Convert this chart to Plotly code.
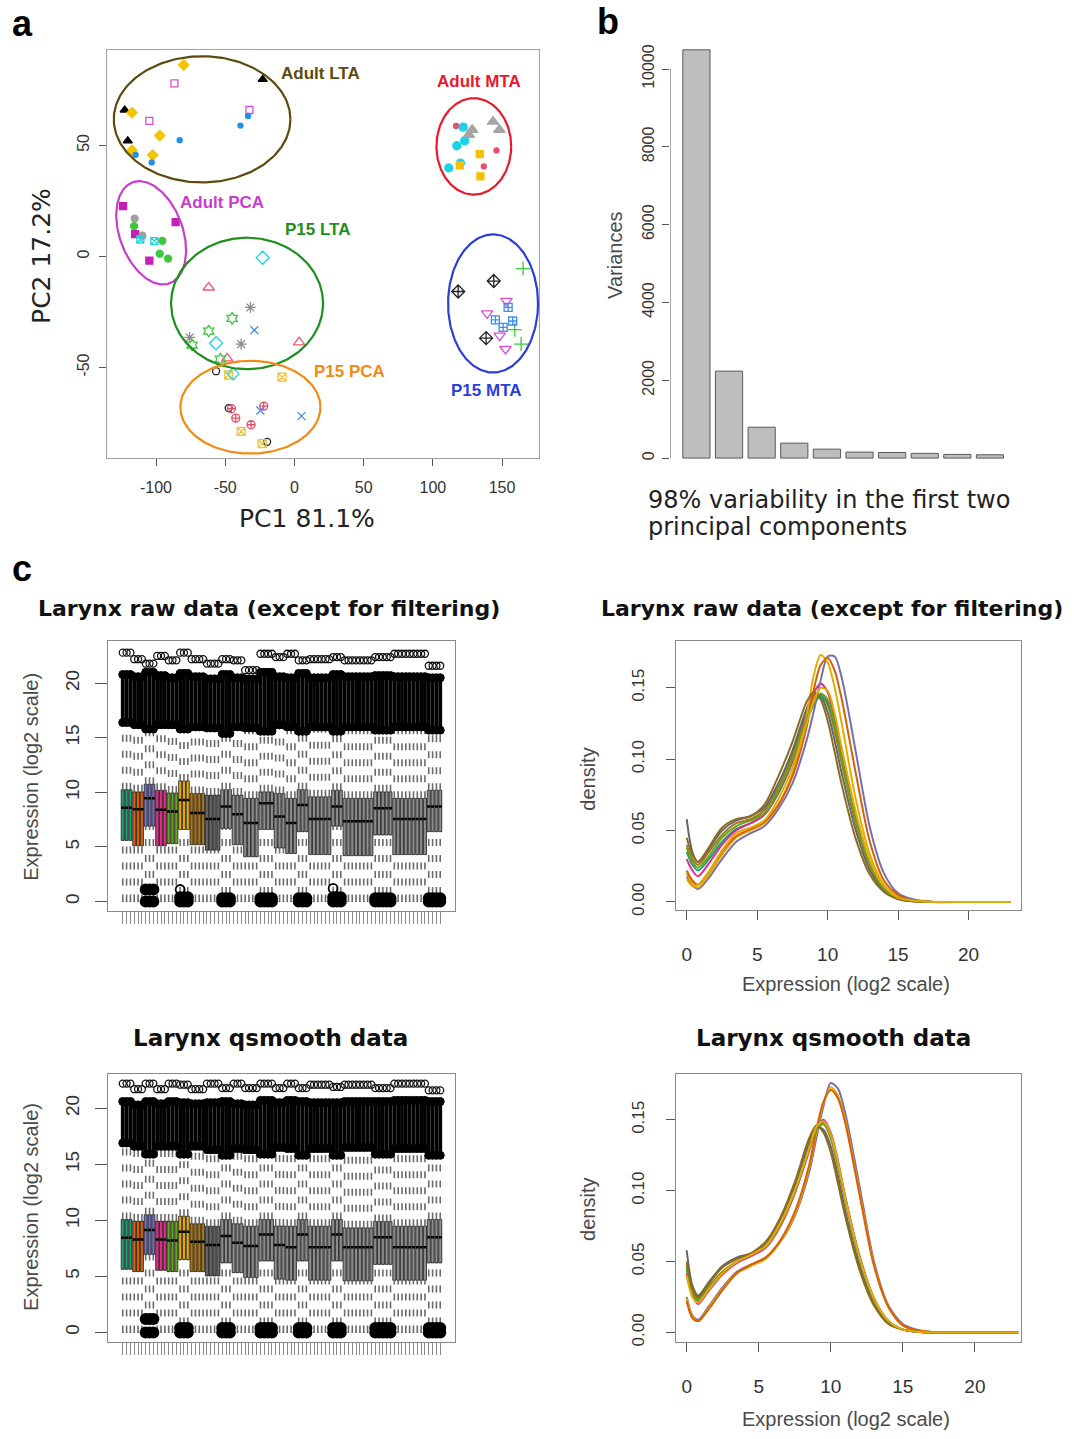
import numpy as np
import plotly.graph_objects as go

W, H = 1078, 1439


def dom_x(l, r):
    return [l / W, r / W]


def dom_y(t, b):
    return [1 - b / H, 1 - t / H]


def fx(px):
    return px / W


def fy(py):
    return 1 - py / H


# ======================= Panel a : PCA =======================
# Adult LTA
LTA_TRI_X = [-122.6, -22.9, -120.4]
LTA_TRI_Y = [65.9, 79.7, 52.0]
LTA_DIA_X = [-80.0, -117.3, -97.3, -117.3, -102.4]
LTA_DIA_Y = [86.1, 64.7, 54.4, 47.7, 45.6]
LTA_SQ_X = [-86.7, -32.5, -104.8]
LTA_SQ_Y = [77.9, 65.9, 61.0]
LTA_DOT_X = [-33.5, -39.0, -82.9, -114.7, -103.1]
LTA_DOT_Y = [63.2, 58.9, 52.3, 45.7, 42.3]
# Adult MTA
MTA_RED_X = [116.8, 146.0, 136.8]
MTA_RED_Y = [58.7, 47.7, 40.5]
MTA_CYAN_X = [121.9, 123.0, 117.3, 119.9, 111.5]
MTA_CYAN_Y = [58.2, 52.0, 49.8, 42.0, 39.8]
MTA_TRI_X = [128.4, 126.0, 143.5, 148.1]
MTA_TRI_Y = [57.0, 54.7, 60.7, 57.0]
MTA_SQ_X = [133.9, 119.5, 134.4]
MTA_SQ_Y = [46.0, 41.0, 36.0]
# Adult PCA
PCA_SQ_X = [-123.8, -85.8, -115.1, -104.8]
PCA_SQ_Y = [22.6, 15.4, 10.0, -1.9]
PCA_GRAY_X = [-115.4, -109.8]
PCA_GRAY_Y = [17.0, 9.3]
PCA_GREEN_X = [-115.8, -95.4, -97.3, -91.3]
PCA_GREEN_Y = [13.6, 7.0, 1.2, -1.0]
PCA_CYAN_X = [-111.3, -101.2]
PCA_CYAN_Y = [7.6, 6.9]
# P15 LTA
P15L_DIA_X = [-22.9, -56.6]
P15L_DIA_Y = [-0.6, -39.1]
P15L_TRI_X = [-61.9, 3.4, -48.6]
P15L_TRI_Y = [-14.0, -38.7, -45.9]
P15L_AST_X = [-31.8, -75.6, -38.5]
P15L_AST_Y = [-23.0, -36.5, -39.5]
P15L_HEX_X = [-45.0, -61.9, -73.9, -53.5]
P15L_HEX_Y = [-27.9, -33.6, -39.9, -46.2]
P15L_X_X = [-28.9]
P15L_X_Y = [-33.2]
# P15 PCA
P15P_CIR_X = [-56.6, -47.5, -19.7]
P15P_CIR_Y = [-51.7, -68.3, -83.5]
P15P_SQX_X = [-47.5, -8.9, -38.5, -23.3]
P15P_SQX_Y = [-53.4, -54.4, -78.8, -84.3]
P15P_DIA_X = [-44.3]
P15P_DIA_Y = [-52.9]
P15P_CP_X = [-45.5, -22.2, -42.4, -31.3]
P15P_CP_Y = [-68.6, -67.4, -72.8, -75.8]
P15P_X_X = [-24.6, 5.1]
P15P_X_Y = [-69.4, -71.9]
# P15 MTA
P15M_PLUS_X = [165.2, 159.2, 163.8]
P15M_PLUS_Y = [-5.5, -33.0, -39.5]
P15M_DC_X = [144.0, 118.3, 138.5]
P15M_DC_Y = [-11.1, -15.8, -36.8]
P15M_TD_X = [153.2, 139.2, 148.3, 152.5]
P15M_TD_Y = [-20.0, -25.7, -35.7, -41.7]
P15M_SC_X = [154.4, 145.2, 157.7, 150.8]
P15M_SC_Y = [-23.0, -28.6, -29.1, -32.0]

PCA_SERIES = [
    (LTA_TRI_X, LTA_TRI_Y, "triangle-up", "#000000", 8),
    (LTA_DIA_X, LTA_DIA_Y, "diamond", "#F5C400", 8),
    (LTA_SQ_X, LTA_SQ_Y, "square-open", "#D64FD0", 7),
    (LTA_DOT_X, LTA_DOT_Y, "circle", "#1E90E6", 5),
    (MTA_RED_X, MTA_RED_Y, "circle", "#E0506A", 5),
    (MTA_CYAN_X, MTA_CYAN_Y, "circle", "#1ED2E6", 8),
    (MTA_TRI_X, MTA_TRI_Y, "triangle-up", "#A5A5A5", 10),
    (MTA_SQ_X, MTA_SQ_Y, "square", "#F5C000", 7),
    (PCA_SQ_X, PCA_SQ_Y, "square", "#C81EB4", 7),
    (PCA_GRAY_X, PCA_GRAY_Y, "circle", "#A0A0A0", 7),
    (PCA_GREEN_X, PCA_GREEN_Y, "circle", "#3CC83C", 7),
    (PCA_CYAN_X, PCA_CYAN_Y, "square-x-open", "#1ED2E6", 7),
    (P15L_DIA_X, P15L_DIA_Y, "diamond-open", "#1ED2E6", 10),
    (P15L_TRI_X, P15L_TRI_Y, "triangle-up-open", "#F05A78", 10),
    (P15L_AST_X, P15L_AST_Y, "asterisk-open", "#8C8C8C", 9),
    (P15L_HEX_X, P15L_HEX_Y, "hexagram-open", "#3CC83C", 9),
    (P15L_X_X, P15L_X_Y, "x-thin-open", "#3C8CF0", 8),
    (P15P_CIR_X, P15P_CIR_Y, "circle-open", "#222222", 7),
    (P15P_SQX_X, P15P_SQX_Y, "square-x-open", "#F0C040", 8),
    (P15P_DIA_X, P15P_DIA_Y, "diamond-open", "#1ED2E6", 9),
    (P15P_CP_X, P15P_CP_Y, "circle-cross-open", "#E0506A", 8),
    (P15P_X_X, P15P_X_Y, "x-thin-open", "#3C8CF0", 8),
    (P15M_PLUS_X, P15M_PLUS_Y, "cross-thin-open", "#3CC83C", 10),
    (P15M_DC_X, P15M_DC_Y, "diamond-cross-open", "#222222", 10),
    (P15M_TD_X, P15M_TD_Y, "triangle-down-open", "#D64FD0", 10),
    (P15M_SC_X, P15M_SC_Y, "square-cross-open", "#3C8CF0", 8),
]

ELL_NAMES = ["Adult LTA", "Adult MTA", "Adult PCA", "P15 LTA", "P15 PCA", "P15 MTA"]
ELL_CX = [-66.7, 129.6, -103.5, -34.2, -31.8, 143.5]
ELL_CY = [61.7, 49.5, 10.6, -21.2, -67.9, -21.2]
ELL_RX = [63.8, 27.0, 22.8, 54.9, 50.6, 32.5]
ELL_RY = [28.4, 21.7, 24.2, 29.6, 20.9, 31.1]
ELL_TILT = [0, 0, 20, 0, 0, 0]
ELL_COLORS = ["#5E4A0C", "#E8192C", "#C73EC8", "#1C8F1C", "#F28A17", "#2B3FD8"]
LABEL_X = [18.8, 133.2, -52.2, 16.8, 40.0, 138.7]
LABEL_Y = [82.4, 78.6, 24.3, 12.1, -51.7, -60.4]

PC1_TICKS = [-100, -50, 0, 50, 100, 150]
PC2_TICKS = [-50, 0, 50]

PXX, PXY = 1.384, 2.23  # screen px per data unit in panel a (aspect)

# ======================= Panel b : variances =======================
VARIANCES = [10494, 2235, 793, 384, 230, 154, 143, 120, 94, 85]
VAR_TICKS = [0, 2000, 4000, 6000, 8000, 10000]

# ======================= Panel c : boxplots =======================
GROUP_SIZES = [3, 3, 3, 3, 3, 3, 4, 4, 3, 3, 4, 4, 3, 3, 3, 6, 3, 8, 5, 9, 4]
GROUP_COLORS = ["#1B9E77", "#D95F02", "#7570B3", "#E7298A", "#66A61E", "#E6AB02",
                "#A6761D", "#666666", "#8C8C8C", "#8C8C8C", "#8C8C8C", "#8C8C8C",
                "#8C8C8C", "#8C8C8C", "#8C8C8C", "#8C8C8C", "#8C8C8C", "#8C8C8C",
                "#8C8C8C", "#8C8C8C", "#8C8C8C"]
GROUP_HIGH = [0, 0, 1, 0, 0, 1, 0, 0, 1, 0, 0, 1, 0, 0, 1, 0, 1, 0, 1, 0, 1]

RAW_Q1 = [5.6, 5.1, 6.9, 5.1, 5.3, 6.6, 5.2, 4.7, 6.7, 5.2, 4.1, 6.6, 4.9, 4.4, 6.4, 4.3, 6.9, 4.2, 6.1, 4.3, 6.4]
RAW_MED = [8.6, 8.45, 9.45, 8.4, 8.25, 9.3, 8.1, 7.55, 8.7, 8.0, 7.2, 9.0, 7.8, 7.2, 8.85, 7.55, 8.7, 7.35, 8.55, 7.55, 8.7]
RAW_Q3 = [10.25, 10.05, 10.75, 10.2, 9.95, 11.05, 9.9, 9.75, 10.25, 9.75, 9.45, 10.05, 9.9, 9.45, 10.25, 9.6, 10.2, 9.45, 10.05, 9.45, 10.2]
RAW_CLOUD_LO = [16.4, 16.2, 15.8, 16.2, 16.2, 15.8, 16.0, 15.9, 15.4, 16.0, 15.9, 15.6, 16.2, 16.0, 15.6, 16.0, 15.6, 16.0, 15.7, 16.0, 15.7]
RAW_CLOUD_HI = [20.8, 20.6, 21.0, 20.7, 20.5, 20.9, 20.6, 20.4, 20.8, 20.5, 20.4, 21.0, 20.6, 20.5, 20.9, 20.5, 20.8, 20.6, 20.7, 20.6, 20.5]
RAW_MAX = [22.8, 22.2, 21.8, 22.5, 22.1, 22.8, 22.2, 21.8, 22.2, 22.1, 21.2, 22.7, 22.4, 22.7, 22.1, 22.2, 22.4, 22.1, 22.4, 22.7, 21.6]
RAW_ZERO_TOP = [None, None, 1.1, None, None, 0.4, None, None, 0.3, None, None, 0.3, None, None, 0.3, None, 0.4, None, 0.3, None, 0.3]
RAW_LOW_CIRCLE = [None, None, None, None, None, 1.1, None, None, None, None, None, None, None, None, None, None, 1.2, None, None, None, None]

QS_Q1 = [5.63, 5.42, 6.96, 5.54, 5.42, 6.5, 5.42, 5.04, 6.2, 5.33, 4.9, 6.37, 4.74, 4.65, 6.37, 4.65, 6.37, 4.6, 6.07, 4.65, 6.2]
QS_MED = [8.44, 8.3, 9.13, 8.3, 8.2, 8.98, 8.09, 7.8, 8.6, 8.0, 7.7, 8.74, 7.8, 7.6, 8.74, 7.6, 8.74, 7.6, 8.5, 7.6, 8.5]
QS_Q3 = [10.07, 9.93, 10.5, 9.93, 9.93, 10.37, 9.7, 9.48, 10.07, 9.7, 9.48, 10.07, 9.5, 9.48, 10.07, 9.48, 10.07, 9.33, 9.9, 9.48, 10.07]
QS_CLOUD_LO = [16.9, 16.6, 15.9, 16.6, 16.6, 15.9, 16.6, 16.3, 15.8, 16.4, 16.3, 15.9, 16.5, 16.4, 15.8, 16.4, 15.8, 16.5, 15.9, 16.4, 15.8]
QS_CLOUD_HI = [20.6, 20.3, 20.6, 20.4, 20.6, 20.5, 20.4, 20.5, 20.6, 20.4, 20.3, 20.7, 20.5, 20.7, 20.6, 20.5, 20.5, 20.6, 20.6, 20.7, 20.6]
QS_MAX = [22.2, 21.7, 22.2, 21.7, 22.2, 22.1, 21.7, 22.2, 21.8, 22.2, 21.8, 22.2, 21.8, 22.2, 21.8, 22.1, 21.9, 22.1, 21.8, 22.2, 21.6]
QS_ZERO_TOP = [None, None, 1.2, None, None, 0.4, None, None, 0.4, None, None, 0.4, None, None, 0.4, None, 0.4, None, 0.4, None, 0.4]
QS_LOW_CIRCLE = [None] * 21

BOX_TICKS = [0, 5, 10, 15, 20]

# ======================= Panel c : densities =======================
DENS_X = [0, 0.4, 0.8, 1.5, 2.5, 3.5, 4.5, 5.5, 6.5, 7.5, 8.5, 9.0, 9.5, 10.0, 10.5, 11.0,
          12.0, 13.0, 14.0, 15.0, 16.0, 17.5, 20.0, 23.0]
DENS_COLORS = ["#A6761D", "#666666", "#1B9E77", "#E7298A", "#7570B3", "#E6AB02",
               "#D95F02", "#66A61E", "#8C6D1F", "#E6AB02"]
RAW_DENS = [
    [0.040, 0.030, 0.026, 0.034, 0.047, 0.055, 0.058, 0.064, 0.080, 0.103, 0.132, 0.143, 0.145, 0.138, 0.120, 0.097, 0.055, 0.025, 0.009, 0.003, 0.001, 0, 0, 0],
    [0.058, 0.035, 0.028, 0.036, 0.050, 0.057, 0.060, 0.066, 0.083, 0.106, 0.135, 0.145, 0.144, 0.133, 0.113, 0.090, 0.050, 0.022, 0.008, 0.002, 0.0005, 0, 0, 0],
    [0.035, 0.026, 0.022, 0.029, 0.042, 0.051, 0.055, 0.061, 0.076, 0.098, 0.126, 0.138, 0.144, 0.140, 0.124, 0.101, 0.058, 0.027, 0.010, 0.003, 0.001, 0, 0, 0],
    [0.030, 0.022, 0.018, 0.026, 0.040, 0.050, 0.055, 0.061, 0.077, 0.099, 0.130, 0.146, 0.153, 0.147, 0.128, 0.103, 0.058, 0.026, 0.009, 0.003, 0.001, 0, 0, 0],
    [0.018, 0.012, 0.009, 0.016, 0.030, 0.042, 0.048, 0.053, 0.065, 0.083, 0.113, 0.133, 0.155, 0.172, 0.172, 0.157, 0.105, 0.052, 0.020, 0.006, 0.002, 0, 0, 0],
    [0.020, 0.013, 0.010, 0.018, 0.033, 0.045, 0.050, 0.055, 0.068, 0.090, 0.130, 0.158, 0.173, 0.168, 0.150, 0.125, 0.072, 0.033, 0.012, 0.004, 0.001, 0, 0, 0],
    [0.022, 0.015, 0.012, 0.020, 0.035, 0.046, 0.051, 0.056, 0.068, 0.088, 0.122, 0.148, 0.166, 0.171, 0.162, 0.142, 0.090, 0.042, 0.015, 0.005, 0.001, 0, 0, 0],
    [0.038, 0.028, 0.024, 0.031, 0.045, 0.053, 0.057, 0.062, 0.078, 0.100, 0.128, 0.140, 0.146, 0.142, 0.125, 0.100, 0.057, 0.026, 0.009, 0.003, 0.001, 0, 0, 0],
    [0.045, 0.033, 0.028, 0.037, 0.052, 0.058, 0.060, 0.068, 0.088, 0.112, 0.140, 0.147, 0.142, 0.127, 0.105, 0.082, 0.044, 0.019, 0.007, 0.002, 0.0005, 0, 0, 0],
    [0.016, 0.011, 0.012, 0.020, 0.036, 0.048, 0.052, 0.057, 0.072, 0.094, 0.125, 0.140, 0.150, 0.148, 0.132, 0.108, 0.063, 0.029, 0.011, 0.003, 0.001, 0, 0, 0],
]
QS_DENS = [
    [0.048, 0.030, 0.024, 0.032, 0.043, 0.050, 0.055, 0.062, 0.077, 0.100, 0.130, 0.144, 0.147, 0.137, 0.117, 0.093, 0.052, 0.023, 0.008, 0.002, 0.0005, 0, 0, 0],
    [0.058, 0.033, 0.026, 0.035, 0.047, 0.053, 0.056, 0.064, 0.080, 0.104, 0.134, 0.145, 0.143, 0.131, 0.110, 0.086, 0.047, 0.020, 0.007, 0.002, 0.0005, 0, 0, 0],
    [0.045, 0.028, 0.022, 0.031, 0.042, 0.050, 0.055, 0.061, 0.076, 0.099, 0.129, 0.143, 0.148, 0.139, 0.119, 0.095, 0.053, 0.024, 0.008, 0.002, 0.0005, 0, 0, 0],
    [0.042, 0.026, 0.020, 0.029, 0.041, 0.049, 0.054, 0.060, 0.075, 0.098, 0.128, 0.144, 0.150, 0.141, 0.121, 0.096, 0.054, 0.024, 0.008, 0.002, 0.0005, 0, 0, 0],
    [0.025, 0.012, 0.009, 0.018, 0.032, 0.043, 0.048, 0.053, 0.064, 0.082, 0.113, 0.137, 0.160, 0.176, 0.172, 0.155, 0.103, 0.050, 0.019, 0.006, 0.002, 0, 0, 0],
    [0.024, 0.011, 0.008, 0.017, 0.031, 0.042, 0.047, 0.052, 0.064, 0.083, 0.116, 0.141, 0.162, 0.173, 0.167, 0.150, 0.099, 0.048, 0.018, 0.005, 0.0015, 0, 0, 0],
    [0.022, 0.010, 0.008, 0.016, 0.030, 0.042, 0.048, 0.053, 0.065, 0.085, 0.118, 0.143, 0.163, 0.171, 0.165, 0.148, 0.097, 0.047, 0.018, 0.005, 0.0015, 0, 0, 0],
    [0.046, 0.029, 0.023, 0.031, 0.043, 0.050, 0.055, 0.061, 0.076, 0.099, 0.129, 0.143, 0.147, 0.138, 0.118, 0.094, 0.052, 0.023, 0.008, 0.002, 0.0005, 0, 0, 0],
    [0.050, 0.031, 0.025, 0.034, 0.046, 0.052, 0.056, 0.064, 0.081, 0.106, 0.137, 0.146, 0.141, 0.127, 0.105, 0.082, 0.044, 0.019, 0.006, 0.002, 0.0005, 0, 0, 0],
    [0.040, 0.025, 0.021, 0.030, 0.042, 0.050, 0.055, 0.061, 0.077, 0.100, 0.130, 0.145, 0.149, 0.140, 0.120, 0.095, 0.053, 0.024, 0.008, 0.002, 0.0005, 0, 0, 0],
]
DENS_XTICKS = [0, 5, 10, 15, 20]
DENS_YTICKS = [0, 0.05, 0.10, 0.15]

SANS = "Liberation Sans, Arial, sans-serif"
WIDE = "DejaVu Sans, sans-serif"
TXT = "#333333"
GRAYTXT = "#4a4a4a"

fig = go.Figure()

# ---------- panel a traces ----------
for xs, ys, sym, col, size in PCA_SERIES:
    fig.add_trace(go.Scatter(
        x=xs, y=ys, mode="markers", xaxis="x", yaxis="y", hoverinfo="skip",
        marker=dict(symbol=sym, color=col, size=size, line=dict(color=col, width=1.3))))

t = np.linspace(0, 2 * np.pi, 240)
for cx, cy, rx, ry, tilt, col in zip(ELL_CX, ELL_CY, ELL_RX, ELL_RY, ELL_TILT, ELL_COLORS):
    sx = rx * PXX * np.cos(t)
    sy = ry * PXY * np.sin(t)
    th = np.radians(tilt)
    xr = sx * np.cos(th) - sy * np.sin(th)
    yr = sx * np.sin(th) + sy * np.cos(th)
    fig.add_trace(go.Scatter(x=cx + xr / PXX, y=cy + yr / PXY, mode="lines", xaxis="x", yaxis="y",
                             hoverinfo="skip", line=dict(color=col, width=2.2)))

# ---------- panel b traces ----------
bar_pos = [0.7 + 1.2 * i for i in range(len(VARIANCES))]
fig.add_trace(go.Bar(x=bar_pos, y=VARIANCES, width=1.0, xaxis="x2", yaxis="y2",
                     marker=dict(color="#BEBEBE", line=dict(color="#5a5a5a", width=1)),
                     hoverinfo="skip"))


# ---------- panel c boxplots ----------
def add_boxplot(xa, ya, q1g, medg, q3g, clo_g, chi_g, maxg, ztop_g, lowc_g):
    sizes = GROUP_SIZES
    q1 = np.repeat(q1g, sizes)
    med = np.repeat(medg, sizes)
    q3 = np.repeat(q3g, sizes)
    clo = np.repeat(clo_g, sizes)
    chi = np.repeat(chi_g, sizes)
    mx = np.repeat(maxg, sizes)
    high = np.repeat(GROUP_HIGH, sizes)
    cols = list(np.repeat(GROUP_COLORS, sizes))
    n = len(q1)
    xs = np.arange(1, n + 1)
    wlo = np.where(high == 1, 0.7, 0.0)
    whi = clo - 0.15

    # dashed whiskers (R: lty = 2)
    wx, wy = [], []
    for i in range(n):
        wx += [xs[i], xs[i], None, xs[i], xs[i], None]
        wy += [wlo[i], q1[i], None, q3[i], whi[i], None]
    fig.add_trace(go.Scatter(x=wx, y=wy, mode="lines", xaxis=xa, yaxis=ya, hoverinfo="skip",
                             line=dict(color="#6a6a6a", width=1.6, dash="7px,9px")))
    # staples
    sxl, syl = [], []
    for i in range(n):
        for v in (wlo[i], whi[i]):
            sxl += [xs[i] - 0.2, xs[i] + 0.2, None]
            syl += [v, v, None]
    fig.add_trace(go.Scatter(x=sxl, y=syl, mode="lines", xaxis=xa, yaxis=ya, hoverinfo="skip",
                             line=dict(color="#555555", width=1)))
    # outlier cloud (dense overlapping open circles)
    fig.add_trace(go.Bar(x=xs, y=chi - clo, base=clo, width=1.0, xaxis=xa, yaxis=ya,
                         marker=dict(color="#000000", line=dict(width=0)), hoverinfo="skip"))
    fig.add_trace(go.Scatter(x=np.concatenate([xs, xs]), y=np.concatenate([clo, chi]), mode="markers",
                             xaxis=xa, yaxis=ya, hoverinfo="skip",
                             marker=dict(symbol="circle", size=8, color="#000000",
                                         line=dict(color="#000000", width=1))))
    fig.add_trace(go.Scatter(x=xs, y=mx, mode="markers", xaxis=xa, yaxis=ya, hoverinfo="skip",
                             marker=dict(symbol="circle-open", size=7, color="#111111",
                                         line=dict(color="#111111", width=1.3))))
    # low outliers (zeros)
    zx, zy = [], []
    ztop = np.repeat(np.array(ztop_g, dtype=object), sizes)
    for i in range(n):
        if ztop[i] is not None:
            zx += [xs[i], xs[i]]
            zy += [0.0, ztop[i]]
    fig.add_trace(go.Scatter(x=zx, y=zy, mode="markers", xaxis=xa, yaxis=ya, hoverinfo="skip",
                             marker=dict(symbol="circle", size=12, color="#000000")))
    lcx, lcy = [], []
    for g, v in enumerate(lowc_g):
        if v is not None:
            start = int(np.sum(sizes[:g]))
            lcx.append(xs[start])
            lcy.append(v)
    if lcx:
        fig.add_trace(go.Scatter(x=lcx, y=lcy, mode="markers", xaxis=xa, yaxis=ya, hoverinfo="skip",
                                 marker=dict(symbol="circle-open", size=9, color="#000000",
                                             line=dict(color="#000000", width=1.8))))
    # boxes
    fig.add_trace(go.Bar(x=xs, y=q3 - q1, base=q1, width=0.8, xaxis=xa, yaxis=ya, hoverinfo="skip",
                         marker=dict(color=cols, line=dict(color="#1a1a1a", width=0.8))))
    # medians
    mxl, myl = [], []
    for i in range(n):
        mxl += [xs[i] - 0.4, xs[i] + 0.4, None]
        myl += [med[i], med[i], None]
    fig.add_trace(go.Scatter(x=mxl, y=myl, mode="lines", xaxis=xa, yaxis=ya, hoverinfo="skip",
                             line=dict(color="#000000", width=2.5)))
    return n


NBOX = add_boxplot("x3", "y3", RAW_Q1, RAW_MED, RAW_Q3, RAW_CLOUD_LO, RAW_CLOUD_HI, RAW_MAX,
                   RAW_ZERO_TOP, RAW_LOW_CIRCLE)
add_boxplot("x5", "y5", QS_Q1, QS_MED, QS_Q3, QS_CLOUD_LO, QS_CLOUD_HI, QS_MAX,
            QS_ZERO_TOP, QS_LOW_CIRCLE)

# ---------- panel c densities ----------
for curve, col in zip(RAW_DENS, DENS_COLORS):
    fig.add_trace(go.Scatter(x=DENS_X, y=curve, mode="lines", xaxis="x4", yaxis="y4", hoverinfo="skip",
                             line=dict(color=col, width=2.0, shape="spline", smoothing=0.8)))
for curve, col in zip(QS_DENS, DENS_COLORS):
    fig.add_trace(go.Scatter(x=DENS_X, y=curve, mode="lines", xaxis="x6", yaxis="y6", hoverinfo="skip",
                             line=dict(color=col, width=2.0, shape="spline", smoothing=0.8)))

# ======================= layout =======================
frame = dict(showline=True, mirror=True, linecolor="#8a8a8a", linewidth=1,
             showgrid=False, zeroline=False, ticks="outside", tickcolor="#555555")

layout = dict(
    width=W, height=H, margin=dict(l=0, r=0, t=0, b=0),
    paper_bgcolor="white", plot_bgcolor="white", showlegend=False, barmode="overlay",
    font=dict(family=SANS, color=TXT),
)

layout["xaxis"] = dict(frame, domain=dom_x(107, 539), range=[-135.4, 176.7], anchor="y",
                       tickvals=PC1_TICKS, ticktext=[str(v) for v in PC1_TICKS], ticklen=7,
                       tickfont=dict(size=16, color=TXT), linecolor="#a0a0a0",
                       ticklabelstandoff=8)
layout["yaxis"] = dict(frame, domain=dom_y(50, 460), range=[-90.8, 93.0], anchor="x",
                       tickvals=PC2_TICKS, ticktext=[str(v) for v in PC2_TICKS], ticklen=7,
                       tickangle=-90, tickfont=dict(size=16, color=TXT), linecolor="#a0a0a0",
                       ticklabelstandoff=4)

layout["xaxis2"] = dict(domain=dom_x(670, 1016.4), range=[-0.272, 12.472], anchor="y2",
                        visible=False, showgrid=False, zeroline=False)
layout["yaxis2"] = dict(domain=dom_y(30, 476), range=[-409.5, 11006], anchor="x2",
                        showline=False, showgrid=False, zeroline=False, ticks="outside", ticklen=7,
                        tickcolor="#555555", tickvals=VAR_TICKS, ticktext=[str(v) for v in VAR_TICKS],
                        tickangle=-90, tickfont=dict(size=16, color=TXT), ticklabelstandoff=2)

box_xticks = list(range(1, NBOX + 1))
for xa, ya, top, bot, yr in (("xaxis3", "yaxis3", 644, 915, [-0.885, 23.84]),
                             ("xaxis5", "yaxis5", 1078, 1348, [-0.89, 23.1])):
    layout[xa] = dict(frame, domain=dom_x(108, 455), range=[-2.86, 87.86], anchor=ya.replace("axis", ""),
                      tickvals=box_xticks, showticklabels=False, ticklen=12, tickcolor="#8a8a8a")
    layout[ya] = dict(frame, domain=dom_y(top, bot), range=yr, anchor=xa.replace("axis", ""),
                      tickvals=BOX_TICKS, ticktext=[str(v) for v in BOX_TICKS], ticklen=12,
                      tickangle=-90, tickfont=dict(size=19, color=TXT), ticklabelstandoff=8)

for xa, ya, top, bot, xr, yr in (("xaxis4", "yaxis4", 644, 914, [-0.76, 23.72], [-0.0058, 0.1826]),
                                 ("xaxis6", "yaxis6", 1078, 1348, [-0.74, 23.2], [-0.007, 0.1827])):
    layout[xa] = dict(frame, domain=dom_x(676, 1021), range=xr, anchor=ya.replace("axis", ""),
                      tickvals=DENS_XTICKS, ticktext=[str(v) for v in DENS_XTICKS], ticklen=9,
                      tickfont=dict(size=19, color=TXT), ticklabelstandoff=18)
    layout[ya] = dict(frame, domain=dom_y(top, bot), range=yr, anchor=xa.replace("axis", ""),
                      tickvals=DENS_YTICKS, ticktext=["%.2f" % v for v in DENS_YTICKS],
                      ticklen=9, tickangle=-90, tickfont=dict(size=17, color=TXT),
                      ticklabelstandoff=15)

fig.update_layout(**layout)

# axis line of panel b (R style: only spans the tick range)
fig.add_shape(type="line", xref="x2", yref="y2", x0=-0.272, x1=-0.272, y0=VAR_TICKS[0], y1=VAR_TICKS[-1],
              line=dict(color="#555555", width=1))

ann = []


def add_text(text, px, py, size, family=SANS, color=TXT, bold=False, angle=0, xanchor="center"):
    ann.append(dict(text=("<b>%s</b>" % text) if bold else text, x=fx(px), y=fy(py),
                    xref="paper", yref="paper", showarrow=False, xanchor=xanchor, yanchor="middle",
                    textangle=angle, font=dict(size=size, family=family, color=color)))


add_text("a", 22, 24, 36, bold=True, color="#000000")
add_text("b", 608, 22, 36, bold=True, color="#000000")
add_text("c", 22, 571, 36, bold=True, color="#000000")

add_text("PC1 81.1%", 307, 521, 25, family=WIDE, color="#222222")
add_text("PC2 17.2%", 42, 257, 25, family=WIDE, color="#222222", angle=-90)
add_text("Variances", 615, 257, 20, color=GRAYTXT, angle=-90)
add_text("98% variability in the first two", 646, 502, 24, family=WIDE, color="#222222", xanchor="left")
add_text("principal components", 646, 529, 24, family=WIDE, color="#222222", xanchor="left")

add_text("Larynx raw data (except for filtering)", 269, 611, 22, family=WIDE, bold=True, color="#111111")
add_text("Larynx raw data (except for filtering)", 832, 611, 22, family=WIDE, bold=True, color="#111111")
add_text("Larynx qsmooth data", 270, 1042, 23, family=WIDE, bold=True, color="#111111")
add_text("Larynx qsmooth data", 833, 1042, 23, family=WIDE, bold=True, color="#111111")

add_text("Expression (log2 scale)", 31, 780, 20, color=GRAYTXT, angle=-90)
add_text("Expression (log2 scale)", 31, 1212, 20, color=GRAYTXT, angle=-90)
add_text("density", 588, 783, 20, color=GRAYTXT, angle=-90)
add_text("density", 588, 1215, 20, color=GRAYTXT, angle=-90)
add_text("Expression (log2 scale)", 846, 988, 20, color=GRAYTXT)
add_text("Expression (log2 scale)", 846, 1425, 20, color=GRAYTXT)

for name, lx, ly, col in zip(ELL_NAMES, LABEL_X, LABEL_Y, ELL_COLORS):
    ann.append(dict(text="<b>%s</b>" % name, x=lx, y=ly, xref="x", yref="y", showarrow=False,
                    xanchor="center", yanchor="middle",
                    font=dict(size=17, family=SANS, color=col)))

fig.update_layout(annotations=ann)

fig.write_html("out.html", config={"displayModeBar": False},
               post_script="document.body.style.margin='0px'; document.body.style.padding='0px';")
